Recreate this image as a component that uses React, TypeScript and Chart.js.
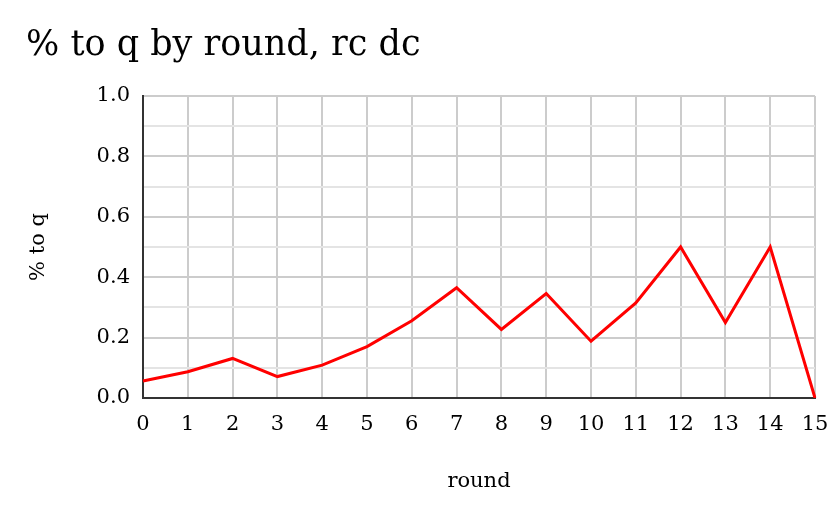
import React, { useEffect, useRef } from "react";
import { Chart, registerables } from "chart.js";

Chart.register(...registerables);

const rounds: string[] = ["0","1","2","3","4","5","6","7","8","9","10","11","12","13","14","15"];
const pctToQ: number[] = [0.056, 0.087, 0.131, 0.071, 0.109, 0.17, 0.256, 0.365, 0.227, 0.346, 0.188, 0.315, 0.5, 0.25, 0.5, 0.0];
const yTickLabels: string[] = ["0.0", "0.2", "0.4", "0.6", "0.8", "1.0"];

const FONT = "'DejaVu Serif', serif";

export default function App() {
  const ref = useRef<HTMLCanvasElement | null>(null);
  useEffect(() => {
    if (!ref.current) return;
    const chart = new Chart(ref.current, {
      type: "line",
      data: {
        labels: rounds,
        datasets: [
          {
            data: pctToQ,
            borderColor: "#ff0000",
            borderWidth: 3,
            pointRadius: 0,
            tension: 0,
            fill: false,
          },
        ],
      },
      options: {
        responsive: false,
        animation: false,
        layout: { padding: { left: 26, right: 25, top: 0, bottom: 20 } },
        plugins: {
          legend: { display: false },
          tooltip: { enabled: false },
          title: {
            display: true,
            text: "% to q by round, rc dc",
            align: "start",
            color: "#000",
            font: { family: FONT, size: 35, weight: "normal" },
            padding: { top: 25, bottom: 29 },
          },
        },
        scales: {
          x: {
            offset: false,
            grid: { color: "#cccccc", lineWidth: 2, drawTicks: false },
            border: { display: true, color: "#333333", width: 2 },
            ticks: {
              color: "#000",
              font: { family: FONT, size: 21 },
              padding: 14,
              maxRotation: 0,
              autoSkip: false,
            },
            title: {
              display: true,
              text: "round",
              color: "#000",
              font: { family: FONT, size: 21 },
              padding: { top: 0, bottom: 6 },
            },
            afterFit: (s: any) => {
              s.height = 102;
              s.paddingLeft = 10;
              s.paddingRight = 10;
            },
          },
          y: {
            min: 0,
            max: 1,
            grid: {
              drawTicks: false,
              lineWidth: 2,
              color: (c: any) => (c.index % 2 === 0 ? "#cccccc" : "#e4e4e4"),
            },
            border: { display: true, color: "#333333", width: 2 },
            ticks: {
              stepSize: 0.1,
              autoSkip: false,
              color: "#000",
              font: { family: FONT, size: 21 },
              padding: 13,
              callback: (_v: any, i: number) => (i % 2 === 0 ? yTickLabels[i / 2] : ""),
            },
            title: {
              display: true,
              text: "% to q",
              color: "#000",
              font: { family: FONT, size: 21 },
              padding: { top: 0, bottom: 0 },
            },
            afterFit: (s: any) => {
              s.width = 117;
            },
          },
        },
      },
    });
    return () => chart.destroy();
  }, []);
  return (
    <div style={{ position: "absolute", left: 0, top: 0, width: 840, height: 520, background: "#fff" }}>
      <canvas ref={ref} width={840} height={520} style={{ width: 840, height: 520 }} />
    </div>
  );
}
